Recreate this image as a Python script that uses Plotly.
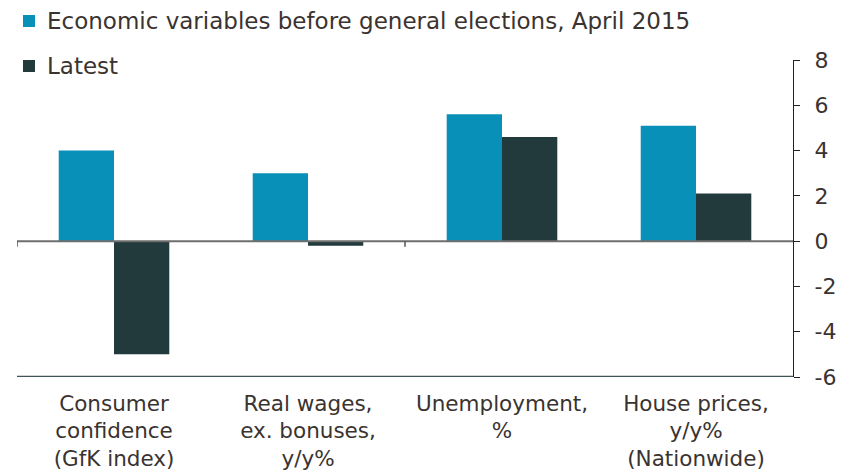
import plotly.graph_objects as go

# Categories and values
categories = [
    "Consumer<br>confidence<br>(GfK index)",
    "Real wages,<br>ex. bonuses,<br>y/y%",
    "Unemployment,<br>%",
    "House prices,<br>y/y%<br>(Nationwide)",
]
before_election = [4.0, 3.0, 5.6, 5.1]
latest = [-5.0, -0.2, 4.6, 2.1]
series_names = ["Economic variables before general elections, April 2015", "Latest"]

y_ticks = [-6, -4, -2, 0, 2, 4, 6, 8]
y_tick_labels = ["-6", "-4", "-2", "0", "2", "4", "6", "8"]

BLUE = "#0890b8"
DARK = "#233a3d"
TEXT = "#3a3330"
FONT = "DejaVu Sans, sans-serif"
COLORS = [BLUE, DARK]

W, H = 856, 473
M = dict(l=17, r=63, t=60, b=96)
PW, PH = W - M["l"] - M["r"], H - M["t"] - M["b"]


def px_x(p):
    return (p - M["l"]) / PW


def px_y(p):
    return (H - M["b"] - p) / PH


x_idx = list(range(len(categories)))

fig = go.Figure()
for vals, name, col in zip([before_election, latest], series_names, COLORS):
    fig.add_trace(go.Bar(x=x_idx, y=vals, name=name,
                         marker=dict(color=col, line=dict(width=0))))

shapes = [
    # zero line
    dict(type="line", xref="x", yref="y", x0=-0.5, x1=3.5, y0=0, y1=0,
         line=dict(color="#6e6e6e", width=2), layer="above"),
    # baseline at bottom
    dict(type="line", xref="x", yref="y", x0=-0.5, x1=3.5, y0=-6, y1=-6,
         line=dict(color="#3f5558", width=2.5), layer="above"),
]
# small separator ticks below the zero line
for b in [-0.5, 1.5]:
    shapes.append(dict(type="line", xref="x", yref="paper", x0=b, x1=b,
                       y0=6 / 14, y1=6 / 14 - 0.018,
                       line=dict(color="#555555", width=1.5), layer="above"))

# legend drawn as square swatches plus text
annotations = []
for i, (name, col) in enumerate(zip(series_names, COLORS)):
    top = 15 + 45 * i
    shapes.append(dict(type="rect", xref="paper", yref="paper",
                       x0=px_x(23), x1=px_x(35), y0=px_y(top + 12), y1=px_y(top),
                       fillcolor=col, line=dict(width=0)))
    annotations.append(dict(xref="paper", yref="paper", x=px_x(45), y=px_y(top + 6),
                            xanchor="left", yanchor="middle", showarrow=False,
                            text=name, font=dict(family=FONT, size=23, color=TEXT)))

fig.update_layout(
    width=W, height=H,
    margin=M,
    paper_bgcolor="white", plot_bgcolor="white",
    barmode="group", bargap=0.43, bargroupgap=0,
    font=dict(family=FONT, color=TEXT, size=22),
    shapes=shapes,
    annotations=annotations,
    showlegend=False,
    xaxis=dict(
        tickmode="array", tickvals=x_idx, ticktext=categories, tickangle=0,
        range=[-0.5, 3.5], showgrid=False, zeroline=False, showline=False,
        ticks="", ticklabelstandoff=11, automargin=False,
        tickfont=dict(family=FONT, size=21.5, color=TEXT),
    ),
    yaxis=dict(
        side="right", range=[-6, 8], tickmode="array",
        tickvals=y_ticks, ticktext=y_tick_labels,
        showgrid=False, zeroline=False, showline=True, automargin=False,
        linecolor="#222222", linewidth=1.2,
        ticks="outside", ticklen=6, tickcolor="#222222", tickwidth=1.2,
        ticklabelstandoff=10,
        tickfont=dict(family=FONT, size=22, color=TEXT),
    ),
)

fig.write_html("out.html")
